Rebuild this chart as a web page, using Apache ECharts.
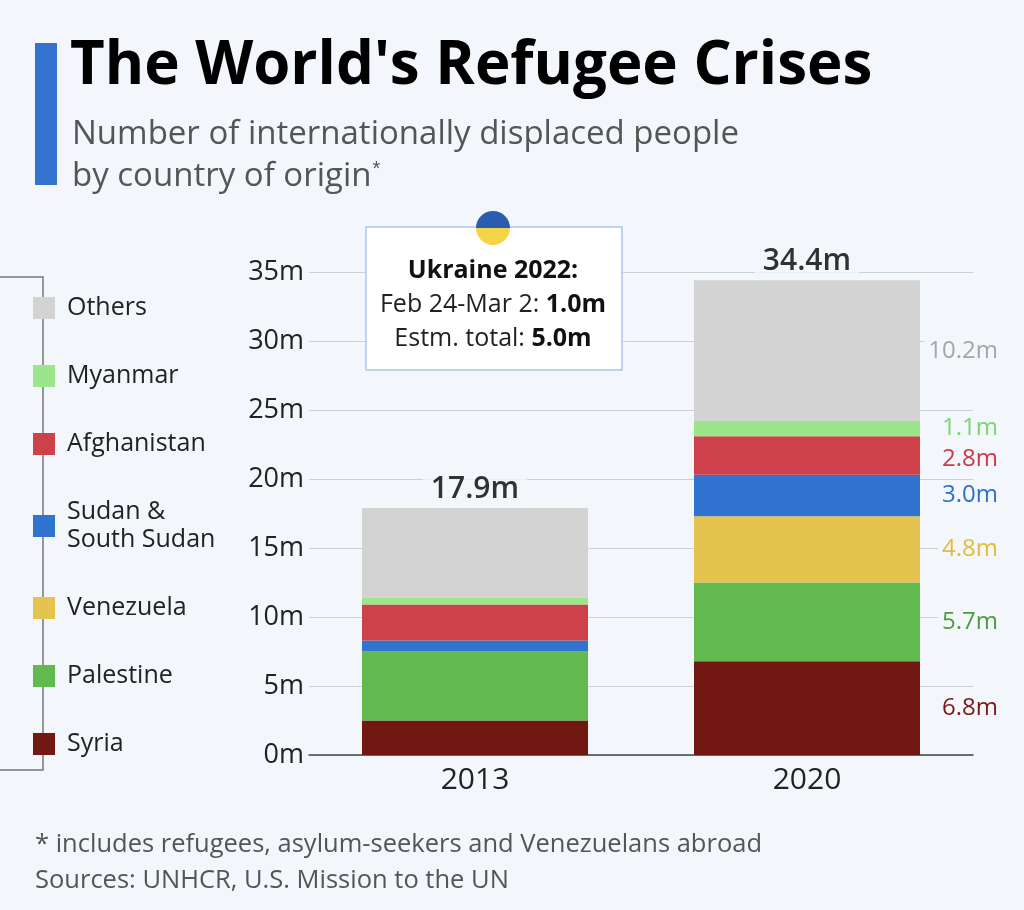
<!DOCTYPE html>
<html>
<head>
<meta charset="utf-8">
<script src="https://cdn.jsdelivr.net/npm/echarts@6/dist/echarts.min.js"></script>
<style>
  html, body { margin: 0; padding: 0; background: #f3f6fa; }
  #charts { width: 1024px; height: 910px; }
</style>
</head>
<body>
<div id="charts"></div>
<script>
// data (millions)
const years = ['2013', '2020'];
const syria = [2.5, 6.8];
const palestine = [5.0, 5.7];
const venezuela = [0, 4.8];
const sudan = [0.8, 3.0];
const afghanistan = [2.6, 2.8];
const myanmar = [0.5, 1.1];
const others = [6.5, 10.2];
const totals = [17.9, 34.4];

const bg = '#f3f6fa';
const font = "'Open Sans', 'Noto Sans', sans-serif";

function stackSeries (name, values, color, labelColor, dy) {
    return {
        name: name,
        type: 'bar',
        stack: 'total',
        barWidth: 226,
        itemStyle: { color: color },
        emphasis: { disabled: true },
        label: {
            position: 'right',
            distance: 82,
            align: 'right',
            offset: [0, dy || 0],
            color: labelColor,
            fontSize: 24,
            fontFamily: font,
            backgroundColor: bg,
            padding: [1, 4],
            formatter: p => p.value.toFixed(1) + 'm'
        },
        // only the 2020 bar carries value labels
        data: values.map((v, i) => ({ value: v, label: { show: i === 1 } }))
    };
}

const noteRich = {
    n: { fontSize: 25, fill: '#222', fontFamily: font },
    b: { fontSize: 25, fontWeight: 'bold', fill: '#111', fontFamily: font }
};

let myChart = echarts.init(document.getElementById('charts'));
myChart.setOption({
    backgroundColor: bg,
    animation: false,
    textStyle: { fontFamily: font },
    grid: { left: 309, right: 51, top: 272, bottom: 155 },
    legend: {
        orient: 'vertical',
        left: 33,
        top: 294,
        padding: 0,
        itemGap: 40,
        itemWidth: 22,
        itemHeight: 22,
        icon: 'rect',
        selectedMode: false,
        textStyle: { fontSize: 25, lineHeight: 28, color: '#222', padding: [0, 0, 0, 7] },
        data: ['Others', 'Myanmar', 'Afghanistan', 'Sudan &\nSouth Sudan', 'Venezuela', 'Palestine', 'Syria']
    },
    xAxis: {
        type: 'category',
        data: years,
        axisLine: { lineStyle: { color: '#444', width: 1.5 } },
        axisTick: { show: false },
        axisLabel: { fontSize: 30, color: '#222', margin: 10 }
    },
    yAxis: {
        type: 'value',
        min: 0,
        max: 35,
        interval: 5,
        axisLabel: { fontSize: 27, color: '#222', margin: 5, formatter: '{value}m' },
        splitLine: { lineStyle: { color: '#cdd0d4', width: 1 } }
    },
    series: [
        stackSeries('Syria', syria, '#711812', '#7a1a14'),
        stackSeries('Palestine', palestine, '#62b94f', '#4e9c3c'),
        stackSeries('Venezuela', venezuela, '#e4c44e', '#e2bd3c'),
        stackSeries('Sudan &\nSouth Sudan', sudan, '#3174cf', '#2f70cc'),
        stackSeries('Afghanistan', afghanistan, '#cf414a', '#cc3a44', 4),
        stackSeries('Myanmar', myanmar, '#9be58b', '#78d86c'),
        stackSeries('Others', others, '#d3d3d3', '#a6a6a6'),
        {
            name: 'total',
            type: 'scatter',
            symbolSize: 1,
            itemStyle: { color: 'rgba(0,0,0,0)' },
            label: {
                show: true,
                position: 'top',
                distance: 3,
                fontSize: 30,
                fontWeight: 600,
                color: '#000',
                backgroundColor: bg,
                padding: [0, 8],
                formatter: p => p.value.toFixed(1) + 'm'
            },
            data: totals
        }
    ],
    graphic: [
        { type: 'rect', shape: { x: 35, y: 43, width: 22, height: 142 }, style: { fill: '#3474d0' } },
        { type: 'text', x: 70, y: 67, style: { text: "The World's Refugee Crises", font: 'bold 60px ' + font, fill: '#000', verticalAlign: 'middle' } },
        { type: 'text', x: 72, y: 135, style: { text: 'Number of internationally displaced people', font: '33px ' + font, fill: '#555', verticalAlign: 'middle' } },
        {
            type: 'text', x: 72, y: 177,
            style: {
                text: 'by country of origin{s|*}',
                font: '33px ' + font, fill: '#555', verticalAlign: 'middle',
                rich: { s: { fontSize: 20, verticalAlign: 'top', padding: [0, 0, 16, 1], fill: '#555' } }
            }
        },
        // legend bracket
        { type: 'polyline', z: -1, shape: { points: [[0, 277], [43, 277], [43, 770], [0, 770]] }, style: { stroke: '#777', lineWidth: 1.5, fill: null } },
        // Ukraine note
        { type: 'rect', z: 100, shape: { x: 366, y: 227, width: 256, height: 143 }, style: { fill: '#fff', stroke: '#a8c8ef', lineWidth: 1.5 } },
        { type: 'sector', z: 101, shape: { cx: 493, cy: 228, r: 17, startAngle: Math.PI, endAngle: Math.PI * 2 }, style: { fill: '#2a5db0' } },
        { type: 'sector', z: 101, shape: { cx: 493, cy: 228, r: 17, startAngle: 0, endAngle: Math.PI }, style: { fill: '#f5d547' } },
        { type: 'text', z: 101, x: 493, y: 271, style: { text: 'Ukraine 2022:', font: 'bold 25px ' + font, fill: '#111', align: 'center', verticalAlign: 'middle' } },
        { type: 'text', z: 101, x: 493, y: 305, style: { text: '{n|Feb 24-Mar 2: }{b|1.0m}', align: 'center', verticalAlign: 'middle', rich: noteRich } },
        { type: 'text', z: 101, x: 493, y: 339, style: { text: '{n|Estm. total: }{b|5.0m}', align: 'center', verticalAlign: 'middle', rich: noteRich } },
        { type: 'text', x: 35, y: 845, style: { text: '* includes refugees, asylum-seekers and Venezuelans abroad', font: '25.5px ' + font, fill: '#555', verticalAlign: 'middle' } },
        { type: 'text', x: 35, y: 881, style: { text: 'Sources: UNHCR, U.S. Mission to the UN', font: '25.5px ' + font, fill: '#555', verticalAlign: 'middle' } }
    ]
});
</script>
</body>
</html>
